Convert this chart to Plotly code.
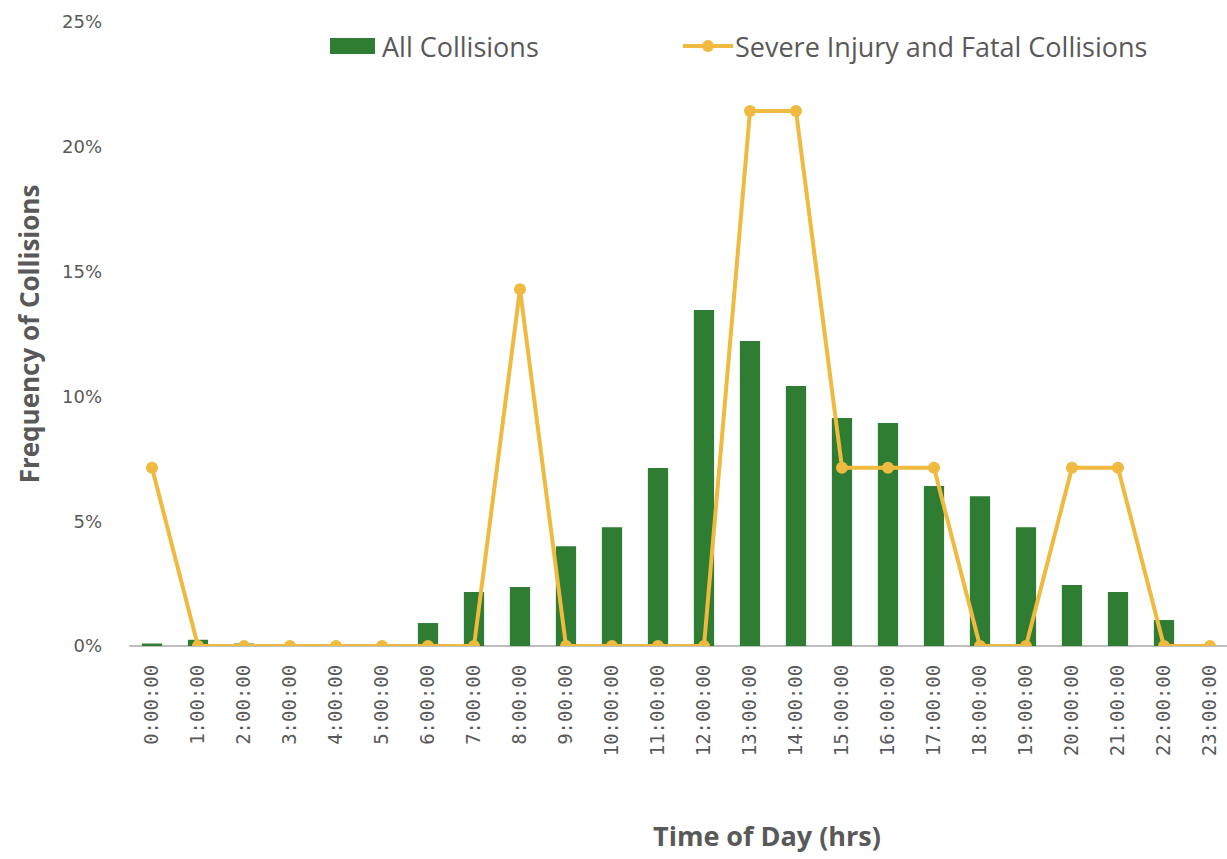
import plotly.graph_objects as go

# Hour of day labels
hours = [f"{h}:00:00" for h in range(24)]

# Share of all collisions by hour (%)
all_collisions = [0.1, 0.25, 0.1, 0.0, 0.0, 0.0, 0.92, 2.16, 2.36, 4.0, 4.76, 7.13,
                  13.46, 12.22, 10.42, 9.13, 8.93, 6.41, 6.0, 4.76, 2.44, 2.16, 1.04, 0.0]

# Share of severe injury and fatal collisions by hour (%)
severe_fatal = [7.14, 0, 0, 0, 0, 0, 0, 0, 14.29, 0, 0, 0,
                0, 21.43, 21.43, 7.14, 7.14, 7.14, 0, 0, 7.14, 7.14, 0, 0]

y_ticks = [0, 5, 10, 15, 20, 25]
series_names = ["All Collisions", "Severe Injury and Fatal Collisions"]

GREEN = "#2e7d33"
GOLD = "#efba3f"
GREY = "#595959"
AXIS_GREY = "#bfbfbf"

W, H = 1227, 859
M_L, M_R, M_T, M_B = 129, 0, 22, 213
PW, PH = W - M_L - M_R, H - M_T - M_B


def px(x):
    """Pixel column -> paper x."""
    return (x - M_L) / PW


def py(y):
    """Pixel row -> paper y."""
    return (H - M_B - y) / PH


x_idx = list(range(len(hours)))

fig = go.Figure()
fig.add_trace(go.Bar(
    x=x_idx, y=all_collisions, name=series_names[0],
    marker=dict(color=GREEN, line=dict(width=0)), width=0.44,
))
fig.add_trace(go.Scatter(
    x=x_idx, y=severe_fatal, name=series_names[1],
    mode="lines+markers",
    line=dict(color=GOLD, width=4),
    marker=dict(color=GOLD, size=12),
))

# Legend drawn as shapes + text across the top of the plot
shapes = [
    dict(type="rect", xref="paper", yref="paper",
         x0=px(330), x1=px(375), y0=py(54), y1=py(38),
         fillcolor=GREEN, line=dict(width=0)),
    dict(type="line", xref="paper", yref="paper",
         x0=px(683), x1=px(733), y0=py(46), y1=py(46),
         line=dict(color=GOLD, width=4)),
    dict(type="circle", xref="paper", yref="paper",
         x0=px(702), x1=px(714), y0=py(52), y1=py(40),
         fillcolor=GOLD, line=dict(width=0)),
]
annotations = [
    dict(text=series_names[0], xref="paper", yref="paper", x=px(380), y=py(47),
         xanchor="left", yanchor="middle", showarrow=False,
         font=dict(family="Open Sans", size=27, color=GREY)),
    dict(text=series_names[1], xref="paper", yref="paper", x=px(733), y=py(47),
         xanchor="left", yanchor="middle", showarrow=False,
         font=dict(family="Open Sans", size=27, color=GREY)),
    # x-axis title
    dict(text="<b>Time of Day (hrs)</b>", xref="paper", yref="paper",
         x=px(767), y=py(835), xanchor="center", yanchor="middle", showarrow=False,
         font=dict(family="Open Sans", size=27, color=GREY)),
]

fig.update_layout(
    width=W, height=H,
    margin=dict(l=M_L, r=M_R, t=M_T, b=M_B),
    plot_bgcolor="white", paper_bgcolor="white",
    font=dict(family="Open Sans", color=GREY),
    showlegend=False,
    shapes=shapes,
    annotations=annotations,
    xaxis=dict(
        range=[-0.5, 23.37],
        tickmode="array", tickvals=x_idx, ticktext=hours,
        tickangle=-90, tickfont=dict(size=19, color=GREY, family="DejaVu Sans Mono"),
        ticklabelstandoff=14,
        showgrid=False, showline=False, zeroline=False, ticks="",
        automargin=False,
    ),
    yaxis=dict(
        range=[0, 25],
        tickmode="array", tickvals=y_ticks, ticktext=[f"{v}%" for v in y_ticks],
        tickfont=dict(size=18, color=GREY, family="DejaVu Sans"),
        ticklabelstandoff=26,
        showgrid=False, showline=False,
        zeroline=True, zerolinecolor=AXIS_GREY, zerolinewidth=2,
        automargin=False,
        title=dict(text="<b>Frequency of Collisions</b>",
                   font=dict(size=26, color=GREY, family="Open Sans"), standoff=14),
    ),
)

fig.write_html("out.html")
